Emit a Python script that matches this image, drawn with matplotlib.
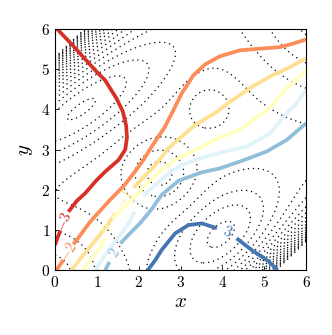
import numpy as np
import matplotlib
matplotlib.use("Agg")
import matplotlib.pyplot as plt

plt.rcParams['mathtext.fontset'] = 'cm'
plt.rcParams['font.family'] = 'serif'
plt.rcParams['font.serif'] = ['cmr10', 'DejaVu Serif']

# niveles de los contornos de color
niveles = [-3, -2, -1, 0, 1, 2, 3]
colores = ['#d73027', '#fc8d59', '#fee090', '#ffffbf', '#e0f3f8', '#91bfdb', '#4575b4']

# trazos (cada nivel partido donde va la etiqueta)
tramos = {
    -3: [([0.05, 0.40, 0.72, 1.00, 1.20, 1.47, 1.62, 1.70, 1.72, 1.68, 1.52, 1.20, 0.98, 0.72, 0.52, 0.32],
          [6.00, 5.62, 5.25, 4.93, 4.72, 4.27, 3.95, 3.60, 3.30, 3.00, 2.74, 2.45, 2.22, 1.91, 1.72, 1.45]),
         ([0.13, 0.05, 0.00], [0.98, 0.78, 0.62])],
    -2: [([0.04, 0.10, 0.20], [0.00, 0.10, 0.25]),
         ([0.44, 0.84, 1.31, 1.65, 1.91, 2.12, 2.31, 2.47, 2.63, 2.83, 3.03, 3.31, 3.59, 3.94, 4.42, 4.90, 5.38, 5.70, 6.00],
          [0.64, 1.20, 1.74, 2.10, 2.45, 2.75, 3.07, 3.32, 3.57, 3.98, 4.40, 4.85, 5.12, 5.32, 5.47, 5.51, 5.55, 5.64, 5.74])],
    -1: [([0.40, 0.62, 0.84, 1.20, 1.45], [0.00, 0.30, 0.58, 1.04, 1.42]),
         ([1.88, 2.10, 2.35, 2.71, 3.00, 3.35, 3.87, 4.20, 4.74, 5.20, 5.54, 6.00],
          [2.05, 2.30, 2.55, 3.03, 3.30, 3.61, 3.94, 4.20, 4.58, 4.85, 5.01, 5.27])],
    0: [([0.66, 0.86, 1.08, 1.18], [0.00, 0.28, 0.55, 0.78]),
        ([1.37, 1.60, 1.87, 2.23, 2.50, 2.87, 3.51, 3.94, 4.42, 4.75, 5.06, 5.54, 6.00],
         [1.28, 1.52, 1.78, 2.20, 2.45, 2.74, 3.07, 3.30, 3.49, 3.75, 3.97, 4.52, 4.97])],
    1: [([0.96, 1.20, 1.47, 1.79, 1.90], [0.00, 0.38, 0.75, 1.20, 1.45]),
        ([2.10, 2.27, 2.71, 3.00, 3.35, 3.94, 4.58, 5.14, 5.54, 5.78, 6.00],
         [1.85, 2.00, 2.40, 2.60, 2.74, 2.92, 3.07, 3.40, 3.90, 4.15, 4.50])],
    2: [([1.20, 1.30], [0.00, 0.20]),
        ([1.56, 1.80, 2.03, 2.30, 2.55, 2.95, 3.50, 3.94, 4.42, 5.06, 5.54, 6.00],
         [0.66, 0.92, 1.16, 1.50, 1.87, 2.22, 2.43, 2.53, 2.70, 2.95, 3.24, 3.65])],
    3: [([2.22, 2.40, 2.55, 2.87, 3.19, 3.51, 3.87], [0.00, 0.25, 0.50, 0.91, 1.12, 1.16, 1.04]),
        ([4.34, 4.70, 5.10, 5.32], [0.79, 0.50, 0.22, 0.00])],
}
# posicion y giro de las etiquetas
etiqueta_x = [0.21, 0.32, 1.66, 1.27, 1.99, 1.43, 4.12]
etiqueta_y = [1.21, 0.45, 1.78, 1.03, 1.66, 0.42, 0.95]
etiqueta_rot = [67, 56, 54, 68, 58, 60, -22]

# campo de fondo (lineas punteadas): paredes en las esquinas + bultos
bulto_x = [4.0, 0.5, 2.5, 3.7, 6.4, -0.2]
bulto_y = [0.85, 4.0, 2.4, 4.05, 6.4, -0.2]
bulto_amp = [-2.0, -2.5, 1.5, 0.8, -2.0, -1.5]
bulto_smay = [1.0, 1.8, 0.5, 0.35, 1.6, 1.0]
bulto_smen = [0.6, 0.6, 0.5, 0.35, 1.3, 1.0]
bulto_ang = [45, 35, 45, 45, -45, 45]

xs = np.linspace(0, 6, 301)
X, Y = np.meshgrid(xs, xs)
U = (X - Y) / np.sqrt(2)
Z = 0.3 * np.exp((np.abs(U) - 2.6) / 0.35)
for bx, by, a, s1, s2, ang in zip(bulto_x, bulto_y, bulto_amp, bulto_smay, bulto_smen, bulto_ang):
    t = np.deg2rad(ang)
    p = (X - bx) * np.cos(t) + (Y - by) * np.sin(t)
    q = -(X - bx) * np.sin(t) + (Y - by) * np.cos(t)
    Z = Z + a * np.exp(-0.5 * (p**2 / s1**2 + q**2 / s2**2))

fig = plt.figure(figsize=(3.32, 3.35), dpi=100)
ax = fig.add_axes([0.1657, 0.194, 0.756, 0.7194])

ax.contour(X, Y, Z, levels=np.arange(-2.25, 8, 0.5), colors='k',
           linewidths=0.9, linestyles=[(0, (1, 3))])

for nivel, color, lx, ly, rot in zip(niveles, colores, etiqueta_x, etiqueta_y, etiqueta_rot):
    for tx, ty in tramos[nivel]:
        ax.plot(tx, ty, color=color, lw=2.7, solid_capstyle='butt')
    ax.text(lx, ly, f'${nivel}$', color=color, fontsize=11, rotation=rot,
            ha='center', va='center', rotation_mode='anchor')

ax.set_xlim(0, 6)
ax.set_ylim(0, 6)
ticks = [0, 1, 2, 3, 4, 5, 6]
ax.set_xticks(ticks)
ax.set_yticks(ticks)
ax.set_xticklabels([f'${t}$' for t in ticks], fontsize=11)
ax.set_yticklabels([f'${t}$' for t in ticks], fontsize=11)
ax.tick_params(direction='in', length=3, width=0.6)
ax.set_xlabel('$x$', fontsize=15, labelpad=2)
ax.set_ylabel('$y$', fontsize=15, labelpad=4)

fig.savefig('out.png', dpi=100)
